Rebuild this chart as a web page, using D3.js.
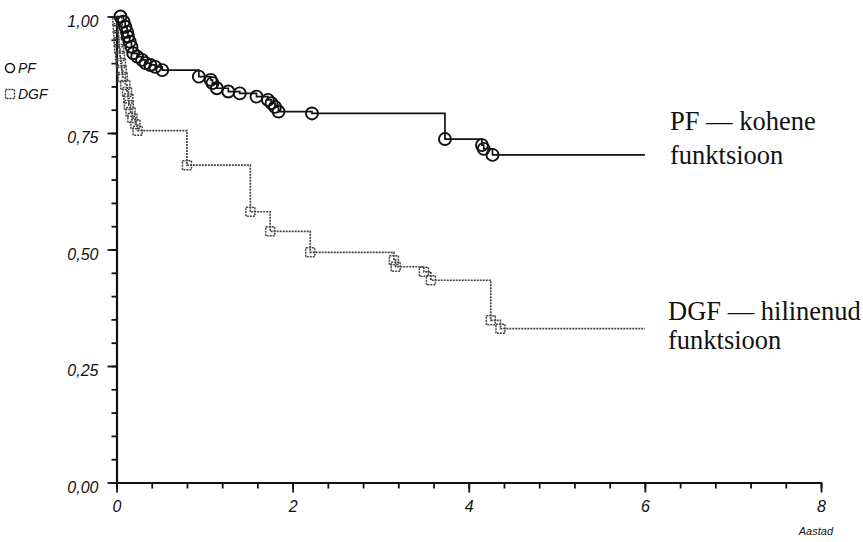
<!DOCTYPE html>
<html>
<head>
<meta charset="utf-8">
<script src="https://cdn.jsdelivr.net/npm/d3@7"></script>
<style>
  body { margin: 0; background: #fff; }
  svg { display: block; }
</style>
</head>
<body>
<div id="chart"></div>
<script>
// Kaplan-Meier step points: time (years) and survival after that time
const pfTime = [0.045, 0.08, 0.10, 0.12, 0.13, 0.15, 0.17, 0.19, 0.235, 0.29, 0.33, 0.385, 0.44, 0.52,
                0.935, 1.07, 1.09, 1.14, 1.27, 1.40, 1.59, 1.72, 1.76, 1.80, 1.84, 2.22,
                3.73, 4.15, 4.17, 4.27];
const pfSurv = [1.00, 0.989, 0.978, 0.967, 0.957, 0.946, 0.935, 0.921, 0.914, 0.907, 0.900, 0.896, 0.892, 0.885,
                0.871, 0.864, 0.857, 0.846, 0.839, 0.835, 0.828, 0.821, 0.814, 0.806, 0.796, 0.792,
                0.737, 0.724, 0.716, 0.703];
const pfEnd = 6.0;

const dgfTime = [0.01, 0.015, 0.02, 0.025, 0.03, 0.04, 0.05, 0.06, 0.07, 0.10, 0.12, 0.135, 0.14, 0.16, 0.18, 0.215, 0.24,
                 0.80, 1.52, 1.745, 2.20, 3.15, 3.17, 3.49, 3.57, 4.25, 4.36];
const dgfSurv = [0.99, 0.975, 0.96, 0.945, 0.93, 0.915, 0.90, 0.885, 0.87, 0.853, 0.838, 0.824, 0.810, 0.795, 0.782, 0.769, 0.755,
                 0.681, 0.581, 0.539, 0.494, 0.477, 0.463, 0.452, 0.434, 0.348, 0.330];
const dgfEnd = 6.0;

const xMajorTicks = [0, 2, 4, 6, 8];
const xMinorTicks = d3.range(0, 8.001, 0.4);
const yMajorTicks = [0, 0.25, 0.5, 0.75, 1.0];
const yMinorTicks = d3.range(0, 1.001, 0.05);

const width = 863, height = 542;
const margin = { top: 16.5, right: 42, bottom: 59.5, left: 116.5 };

const svg = d3.select("#chart")
    .append("svg")
    .attr("width", width)
    .attr("height", height);

svg.append("rect").attr("width", width).attr("height", height).attr("fill", "#fff");

const g = svg.append("g")
    .attr("transform", `translate(${margin.left},${margin.top})`);

const innerW = width - margin.left - margin.right;
const innerH = height - margin.top - margin.bottom;

const x = d3.scaleLinear().domain([0, 8]).range([0, innerW]);
const y = d3.scaleLinear().domain([0, 1]).range([innerH, 0]);

// comma decimal like the original
const fmt = v => d3.format(".2f")(v).replace(".", ",");
const labelFont = "'Liberation Sans', Arial, sans-serif";

// minor ticks (no labels)
g.append("g")
    .attr("class", "minor")
    .attr("transform", `translate(0,${innerH})`)
    .call(d3.axisBottom(x).tickValues(xMinorTicks).tickSize(6).tickFormat(() => ""));
g.append("g")
    .attr("class", "minor")
    .call(d3.axisLeft(y).tickValues(yMinorTicks).tickSize(5).tickFormat(() => ""));
g.selectAll(".minor .domain").remove();

// major ticks with labels
const xAxis = g.append("g")
    .attr("transform", `translate(0,${innerH})`)
    .call(d3.axisBottom(x).tickValues(xMajorTicks).tickSize(10).tickSizeOuter(0).tickFormat(d3.format("d")));
const yAxis = g.append("g")
    .call(d3.axisLeft(y).tickValues(yMajorTicks).tickSize(9).tickSizeOuter(0).tickFormat(fmt));

g.selectAll(".tick line")
    .attr("stroke", "#111")
    .attr("stroke-width", 1.8);
g.selectAll(".domain").attr("stroke", "#111").attr("stroke-width", 2.2);

xAxis.selectAll("text")
    .attr("dy", "1.05em")
    .style("font-family", labelFont)
    .style("font-style", "italic")
    .style("font-size", "16px")
    .attr("fill", "#111");
yAxis.selectAll("text")
    .attr("x", -18)
    .attr("dy", "0.62em")
    .style("font-family", labelFont)
    .style("font-style", "italic")
    .style("font-size", "16px")
    .attr("fill", "#111");

// x axis name
g.append("text")
    .attr("x", innerW + 12)
    .attr("y", innerH + 52)
    .attr("text-anchor", "end")
    .style("font-family", labelFont)
    .style("font-style", "italic")
    .style("font-size", "11px")
    .attr("fill", "#111")
    .text("Aastad");

// build step series
const pfPts = [[0, 1]].concat(pfTime.map((t, i) => [t, pfSurv[i]]), [[pfEnd, pfSurv[pfSurv.length - 1]]]);
const dgfPts = [[0, 1]].concat(dgfTime.map((t, i) => [t, dgfSurv[i]]), [[dgfEnd, dgfSurv[dgfSurv.length - 1]]]);

const step = d3.line()
    .x(d => x(d[0]))
    .y(d => y(d[1]))
    .curve(d3.curveStepAfter);

// DGF curve (grey dotted)
g.append("path")
    .datum(dgfPts)
    .attr("fill", "none")
    .attr("stroke", "#444")
    .attr("stroke-width", 1.7)
    .attr("stroke-dasharray", "2,1")
    .attr("d", step);

g.selectAll(".dgf-mark")
    .data(dgfTime.map((t, i) => [t, dgfSurv[i]]))
    .enter()
    .append("rect")
    .attr("class", "dgf-mark")
    .attr("x", d => x(d[0]) - 4.5)
    .attr("y", d => y(d[1]) - 4.5)
    .attr("width", 9)
    .attr("height", 9)
    .attr("fill", "none")
    .attr("stroke", "#444")
    .attr("stroke-width", 1.5)
    .attr("stroke-dasharray", "2,1");

// PF curve (black)
g.append("path")
    .datum(pfPts)
    .attr("fill", "none")
    .attr("stroke", "#111")
    .attr("stroke-width", 1.7)
    .attr("d", step);

g.selectAll(".pf-mark")
    .data(pfTime.map((t, i) => [t, pfSurv[i]]))
    .enter()
    .append("circle")
    .attr("class", "pf-mark")
    .attr("cx", d => x(d[0]))
    .attr("cy", d => y(d[1]))
    .attr("r", 6)
    .attr("fill", "none")
    .attr("stroke", "#111")
    .attr("stroke-width", 1.9);

// legend top left
const legend = svg.append("g");
legend.append("circle")
    .attr("cx", 10).attr("cy", 68).attr("r", 4.5)
    .attr("fill", "none").attr("stroke", "#111").attr("stroke-width", 1.5);
legend.append("text")
    .attr("x", 18).attr("y", 73)
    .style("font-family", labelFont)
    .style("font-style", "italic").style("font-size", "14px")
    .attr("fill", "#111").text("PF");
legend.append("rect")
    .attr("x", 5.5).attr("y", 89.5).attr("width", 9).attr("height", 9)
    .attr("fill", "none").attr("stroke", "#333").attr("stroke-width", 1.3)
    .attr("stroke-dasharray", "2,1");
legend.append("text")
    .attr("x", 18).attr("y", 99)
    .style("font-family", labelFont)
    .style("font-style", "italic").style("font-size", "14px")
    .attr("fill", "#111").text("DGF");

// curve annotations at right
const notes = [
    { lines: ["PF — kohene", "funktsioon"], x: 670, y: 130, gap: 34 },
    { lines: ["DGF — hilinenud", "funktsioon"], x: 668, y: 320, gap: 29 }
];
notes.forEach(n => {
    const t = svg.append("text")
        .attr("x", n.x)
        .attr("y", n.y)
        .style("font-family", "'Liberation Serif', 'Times New Roman', serif")
        .style("font-size", "26.5px")
        .attr("fill", "#111");
    n.lines.forEach((l, i) => {
        t.append("tspan")
            .attr("x", n.x)
            .attr("dy", i === 0 ? 0 : n.gap)
            .text(l);
    });
});
</script>
</body>
</html>
